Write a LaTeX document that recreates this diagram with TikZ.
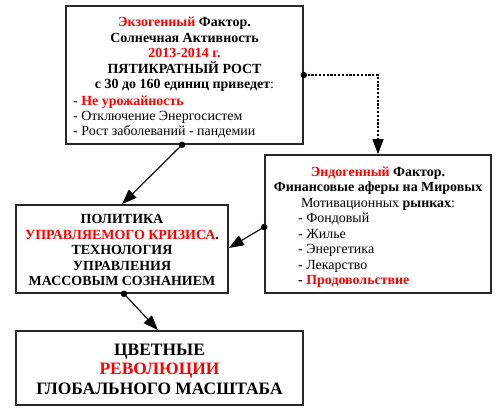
\documentclass[tikz,border=0pt]{standalone}
\usepackage{fontspec}
\setmainfont{Liberation Serif}
\usetikzlibrary{arrows.meta,calc}
\definecolor{accent}{RGB}{255,0,0}
\definecolor{frame}{RGB}{40,40,40}
\begin{document}
\begin{tikzpicture}[x=1bp,y=-1bp,
  box/.style={draw=frame,line width=1.6bp,fill=white,inner sep=0},
  txt/.style={inner sep=0,font=\fontsize{14}{15.5}\selectfont},
  ctxt/.style={txt,align=center},
  ltxt/.style={txt,align=left,anchor=west},
  big/.style={inner sep=0,font=\fontsize{17.5}{19.5}\selectfont\bfseries,align=center},
  dot/.style={circle,fill=black,inner sep=0,minimum size=6.5bp},
  link/.style={line width=1.1bp,-{Triangle[length=15bp,width=11bp]}},
  dotlink/.style={link,dash pattern=on 2.2bp off 1.6bp}]
\useasboundingbox[fill=white] (0,0) rectangle (500,412);
% boxes
\node[box,minimum width=237bp,minimum height=138bp] (ex) at (184.5,75) {};
\node[box,minimum width=226bp,minimum height=138bp] (endo) at (378,224) {};
\node[box,minimum width=212bp,minimum height=88bp] (pol) at (122,249) {};
\node[box,minimum width=287bp,minimum height=74bp] (rev) at (159.5,368) {};
% texts
\node[ctxt] (exc) at (184.5,54.5) {\textbf{\textcolor{accent}{Экзогенный} Фактор.}\\ \textbf{Солнечная Активность}\\ \textbf{\textcolor{accent}{2013-2014 г.}}\\ \textbf{ПЯТИКРАТНЫЙ РОСТ}\\ \textbf{с 30 до 160 единиц приведет}:};
\node[ltxt] (exl) at (73,117) {- \textbf{\textcolor{accent}{Не урожайность}}\\ - Отключение Энергосистем\\ - Рост заболеваний - пандемии};
\node[ctxt] (endoc) at (378,188.5) {\textbf{\textcolor{accent}{Эндогенный} Фактор.}\\ \textbf{Финансовые аферы на Мировых}\\ Мотивационных \textbf{рынках}:};
\node[ltxt] (endol) at (298,250.5) {- Фондовый\\ - Жилье\\ - Энергетика\\ - Лекарство\\ \textbf{- \textcolor{accent}{Продовольствие}}};
\node[ctxt,font=\fontsize{14}{15.5}\selectfont\bfseries] (polt) at (122,250) {ПОЛИТИКА\\ \textcolor{accent}{УПРАВЛЯЕМОГО КРИЗИСА}.\\ ТЕХНОЛОГИЯ\\ УПРАВЛЕНИЯ\\ МАССОВЫМ СОЗНАНИЕМ};
\node[big] (revt) at (159.5,369) {ЦВЕТНЫЕ\\ \textcolor{accent}{РЕВОЛЮЦИИ}\\ ГЛОБАЛЬНОГО МАСШТАБА};
% dots
\node[dot] (d1) at ($(ex.south)+(-2.5,0)$) {};
\node[dot] (d2) at (ex.east) {};
\node[dot] (d3) at ($(endo.west)+(0,3)$) {};
\node[dot] (d4) at ($(pol.south)+(2,0)$) {};
% connectors
\draw[link] (d1.center) -- (pol.north);
\draw[dotlink] (d2.center) -| (endo.north);
\draw[link] (d3.center) -- ($(pol.east)+(0,-1)$);
\draw[link] (d4.center) -- ($(rev.north)+(-1.5,0)$);
\end{tikzpicture}
\end{document}
